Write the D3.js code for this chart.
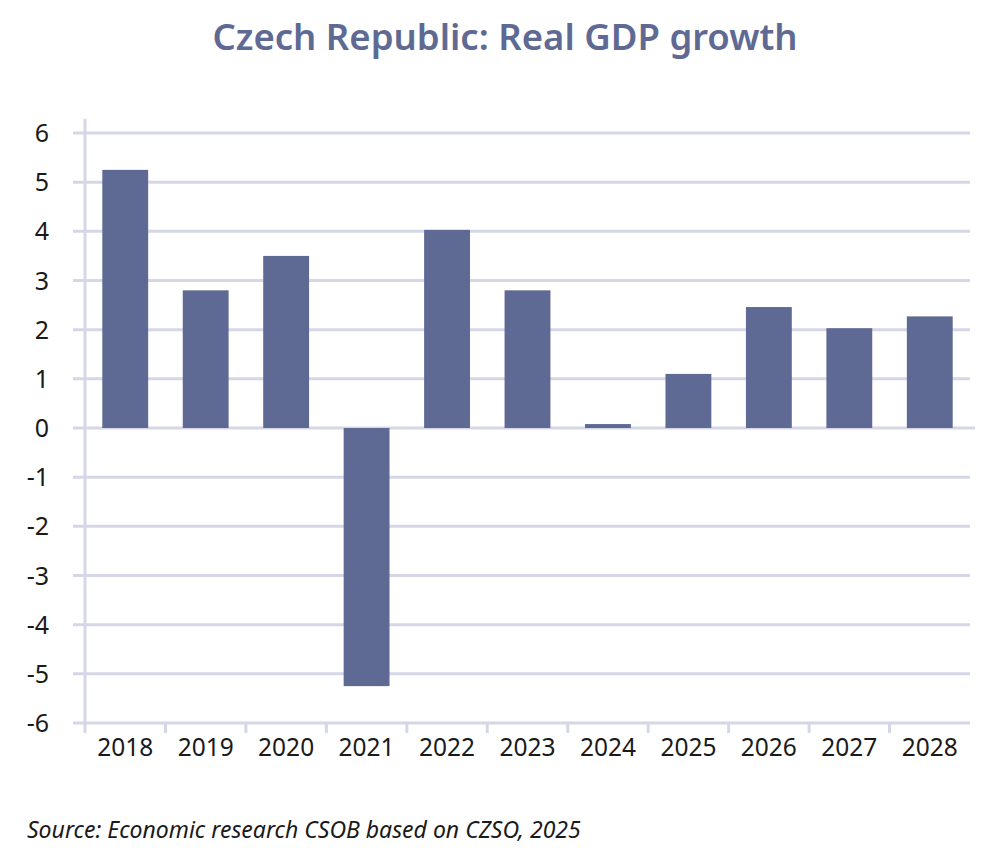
<!DOCTYPE html>
<html>
<head>
<meta charset="utf-8">
<script src="https://cdn.jsdelivr.net/npm/d3@7"></script>
<style>
  body { margin: 0; background: #fff; }
  text { font-family: "Noto Sans", sans-serif; }
</style>
</head>
<body>
<div id="chart"></div>
<script>
var years = ["2018", "2019", "2020", "2021", "2022", "2023", "2024", "2025", "2026", "2027", "2028"];
var growth = [5.25, 2.8, 3.5, -5.25, 4.03, 2.8, 0.08, 1.1, 2.46, 2.03, 2.27];
var yTicks = [6, 5, 4, 3, 2, 1, 0, -1, -2, -3, -4, -5, -6];

var width = 1000;
var height = 852;
var plotLeft = 85, plotRight = 970, plotTop = 133, plotBottom = 723;

var barColor = "#5e6a94";
var gridColor = "#d5d7e6";

var svg = d3.select("#chart")
  .append("svg")
  .attr("width", width)
  .attr("height", height);

var x = d3.scaleBand()
  .domain(years)
  .range([plotLeft, plotRight])
  .paddingInner(0.43)
  .paddingOuter(0.215);

var y = d3.scaleLinear()
  .domain([-6, 6])
  .range([plotBottom, plotTop]);

// gridlines
svg.append("g")
  .selectAll("line")
  .data(yTicks)
  .enter()
  .append("line")
  .attr("x1", plotLeft - 12)
  .attr("x2", function (d) { return d === 0 ? plotRight + 5 : plotRight; })
  .attr("y1", function (d) { return y(d); })
  .attr("y2", function (d) { return y(d); })
  .attr("stroke", gridColor)
  .attr("stroke-width", 3);

// y axis line
svg.append("line")
  .attr("x1", plotLeft).attr("x2", plotLeft)
  .attr("y1", plotTop - 14).attr("y2", plotBottom + 10)
  .attr("stroke", gridColor)
  .attr("stroke-width", 3);

// category ticks between bars
var step = x.step();
svg.append("g")
  .selectAll("line")
  .data(years.slice(1))
  .enter()
  .append("line")
  .attr("x1", function (d) { return x(d) - (step - x.bandwidth()) / 2; })
  .attr("x2", function (d) { return x(d) - (step - x.bandwidth()) / 2; })
  .attr("y1", plotBottom)
  .attr("y2", plotBottom + 10)
  .attr("stroke", gridColor)
  .attr("stroke-width", 3);

// bars
svg.append("g")
  .selectAll("rect")
  .data(growth)
  .enter()
  .append("rect")
  .attr("x", function (d, i) { return x(years[i]); })
  .attr("width", x.bandwidth())
  .attr("y", function (d) { return y(Math.max(0, d)); })
  .attr("height", function (d) { return Math.abs(y(d) - y(0)); })
  .attr("fill", barColor);

// y labels
svg.append("g")
  .selectAll("text")
  .data(yTicks)
  .enter()
  .append("text")
  .attr("x", 49)
  .attr("y", function (d) { return y(d); })
  .attr("dy", "0.36em")
  .attr("text-anchor", "end")
  .attr("font-size", 25)
  .attr("fill", "#1a1a1a")
  .text(function (d) { return d; });

// x labels
svg.append("g")
  .selectAll("text")
  .data(years)
  .enter()
  .append("text")
  .attr("x", function (d) { return x(d) + x.bandwidth() / 2; })
  .attr("y", 756)
  .attr("text-anchor", "middle")
  .attr("font-size", 24.5)
  .attr("fill", "#1a1a1a")
  .text(function (d) { return d; });

// title
svg.append("text")
  .attr("x", 505)
  .attr("y", 50)
  .attr("text-anchor", "middle")
  .attr("font-size", 36.5)
  .attr("font-weight", 600)
  .attr("fill", barColor)
  .text("Czech Republic: Real GDP growth");

// source
svg.append("text")
  .attr("x", 27)
  .attr("y", 838)
  .attr("font-size", 23)
  .attr("font-style", "italic")
  .attr("fill", "#1a1a1a")
  .text("Source: Economic research CSOB based on CZSO, 2025");
</script>
</body>
</html>
